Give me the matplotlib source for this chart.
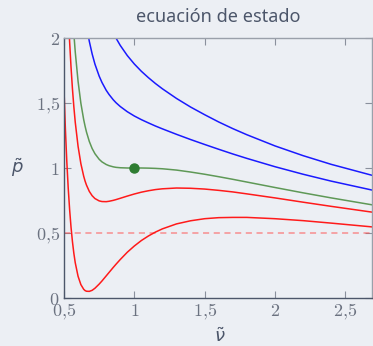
import matplotlib
matplotlib.use("Agg")
import matplotlib.pyplot as plt
from matplotlib.ticker import FuncFormatter

# reduced volume samples
v_all = [0.5, 0.51, 0.52, 0.53, 0.54, 0.55, 0.56, 0.57, 0.58, 0.6, 0.62, 0.64, 0.65, 0.66,
         0.68, 0.7, 0.72, 0.75, 0.77, 0.8, 0.82, 0.85, 0.87, 0.9, 0.95, 1.0, 1.05, 1.1,
         1.15, 1.2, 1.3, 1.4, 1.5, 1.6, 1.7, 1.8, 2.0, 2.2, 2.4, 2.7]

p_red_low = [1.600, 1.296, 1.048, 0.845, 0.680, 0.544, 0.434, 0.344, 0.271, 0.167, 0.103,
             0.067, 0.057, 0.052, 0.051, 0.059, 0.075, 0.107, 0.131, 0.170, 0.196, 0.235,
             0.260, 0.296, 0.352, 0.400, 0.442, 0.477, 0.507, 0.532, 0.570, 0.594, 0.610,
             0.618, 0.620, 0.620, 0.610, 0.595, 0.576, 0.546]
p_red_high = [3.200, 2.806, 2.477, 2.201, 1.970, 1.775, 1.610, 1.471, 1.352, 1.167, 1.033,
              0.937, 0.899, 0.868, 0.820, 0.787, 0.765, 0.747, 0.742, 0.741, 0.744, 0.751,
              0.757, 0.767, 0.784, 0.800, 0.814, 0.825, 0.834, 0.840, 0.846, 0.844, 0.838,
              0.828, 0.816, 0.801, 0.770, 0.737, 0.705, 0.659]
p_green = [4.000, 3.560, 3.191, 2.879, 2.615, 2.390, 2.198, 2.034, 1.893, 1.667, 1.498,
           1.372, 1.321, 1.276, 1.204, 1.150, 1.110, 1.067, 1.047, 1.027, 1.018, 1.009,
           1.005, 1.002, 1.000, 1.000, 1.000, 0.999, 0.997, 0.994, 0.984, 0.969, 0.952,
           0.933, 0.913, 0.892, 0.850, 0.809, 0.770, 0.715]

v_blue1 = [0.6, 0.62, 0.64, 0.65, 0.66, 0.68, 0.7, 0.72, 0.75, 0.77, 0.8, 0.82, 0.85, 0.87,
           0.9, 0.95, 1.0, 1.05, 1.1, 1.15, 1.2, 1.3, 1.4, 1.5, 1.6, 1.7, 1.8, 2.0, 2.2,
           2.4, 2.7]
p_blue1 = [2.667, 2.428, 2.241, 2.163, 2.093, 1.974, 1.878, 1.799, 1.707, 1.658, 1.598,
           1.566, 1.525, 1.502, 1.473, 1.433, 1.400, 1.372, 1.347, 1.323, 1.301, 1.259,
           1.219, 1.181, 1.144, 1.108, 1.074, 1.010, 0.952, 0.899, 0.828]

v_blue2 = [0.8, 0.82, 0.85, 0.87, 0.9, 0.95, 1.0, 1.05, 1.1, 1.15, 1.2, 1.3, 1.4, 1.5,
           1.6, 1.7, 1.8, 2.0, 2.2, 2.4, 2.7]
p_blue2 = [2.170, 2.114, 2.041, 1.999, 1.943, 1.865, 1.800, 1.744, 1.695, 1.650, 1.609,
           1.535, 1.469, 1.410, 1.354, 1.303, 1.256, 1.170, 1.095, 1.028, 0.941]

critical_point = (1.0, 1.0)
dashed_level = 0.5

x_ticks = [0.5, 1, 1.5, 2, 2.5]
y_ticks = [0, 0.5, 1, 1.5, 2]

plt.rcParams['mathtext.fontset'] = 'cm'
bg = '#eceff4'
fig = plt.figure(figsize=(3.73, 3.46), dpi=100, facecolor=bg)
ax = fig.add_axes([64/373, 1-298/346, (372-64)/373, (298-38)/346])
ax.set_facecolor(bg)

line_kw = dict(lw=1.1, solid_joinstyle='round', solid_capstyle='round')
ax.axhline(dashed_level, color='#ff4d4d', alpha=0.6, lw=1.1, ls=(0, (4, 3)))
ax.plot(v_all, p_red_low, color='#ff1a1a', **line_kw)
ax.plot(v_all, p_red_high, color='#ff1a1a', **line_kw)
ax.plot(v_all, p_green, color='#4f8f45', alpha=0.9, **line_kw)
ax.plot(v_blue1, p_blue1, color='#1a1aff', **line_kw)
ax.plot(v_blue2, p_blue2, color='#1a1aff', **line_kw)
ax.plot([critical_point[0]], [critical_point[1]], 'o', color='#2e7d32', ms=6.5)

ax.set_xlim(0.5, 2.69)
ax.set_ylim(0, 2)

def fmt(x, pos):
    s = ('%g' % x).replace('.', '{,}')
    return '$' + s + '$'

ax.set_xticks(x_ticks)
ax.set_yticks(y_ticks)
ax.xaxis.set_major_formatter(FuncFormatter(fmt))
ax.yaxis.set_major_formatter(FuncFormatter(fmt))
ax.tick_params(direction='in', length=5, width=0.8, color='#8a909c',
               labelcolor='#6b7280', labelsize=13, top=True, right=True, pad=3)

for side in ['left', 'bottom']:
    ax.spines[side].set_color('#4c566a')
    ax.spines[side].set_linewidth(1.0)
for side in ['top', 'right']:
    ax.spines[side].set_color('#9aa0aa')
    ax.spines[side].set_linewidth(1.0)

fig.text(218/373, 1-17/346, 'ecuación de estado', ha='center', va='center',
         fontsize=13, color='#4c566a', family=['Noto Sans', 'DejaVu Sans'])
fig.text(17/373, 1-168/346, r'$\tilde{p}$', ha='center', va='center',
         fontsize=13, color='#4c566a', math_fontfamily='dejavusans')
fig.text(220/373, 1-337/346, r'$\tilde{\nu}$', ha='center', va='center',
         fontsize=13, color='#4c566a', math_fontfamily='dejavusans')

fig.savefig('out.png', dpi=100, facecolor=bg)
